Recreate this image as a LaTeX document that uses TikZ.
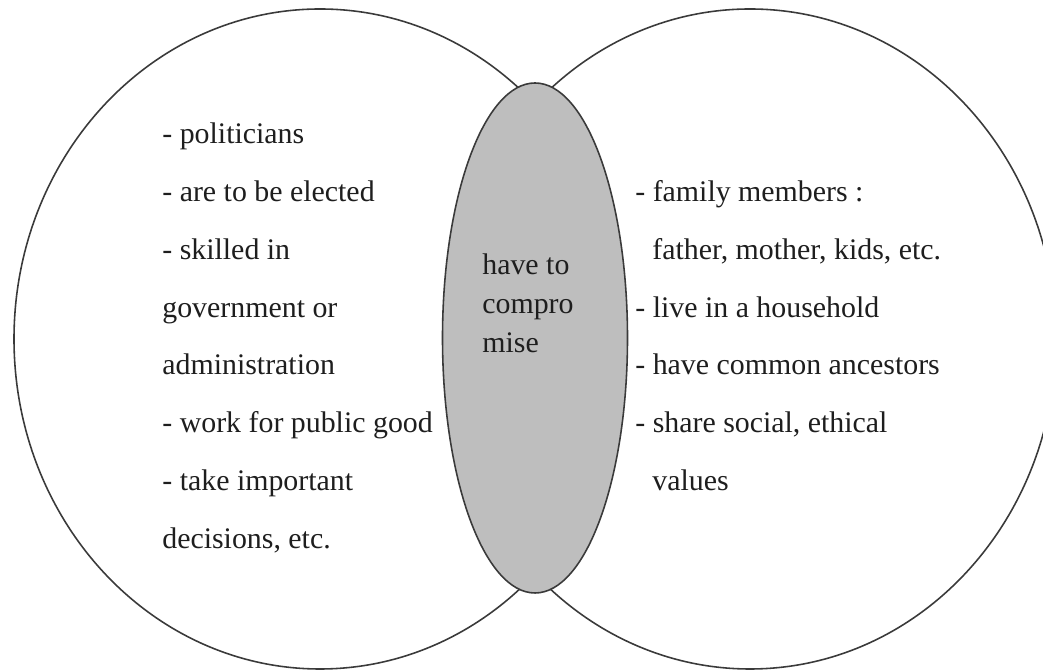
\documentclass[tikz,border=0pt]{standalone}
\usepackage{fontspec}
\setmainfont{Liberation Serif}
\usetikzlibrary{positioning}
\definecolor{ring-border}{HTML}{3A3A3A}
\definecolor{overlap-fill}{HTML}{BEBEBE}
\definecolor{label-color}{HTML}{1E1E1E}
\tikzset{
  ring/.style={draw=ring-border, line width=0.9pt},
  overlap/.style={draw=ring-border, fill=overlap-fill, line width=0.9pt},
  list-item/.style={
    anchor=base west, inner sep=0pt, text=label-color,
    font=\fontsize{17}{20}\selectfont
  }
}

\begin{document}
\begin{tikzpicture}
  \useasboundingbox (0, 0) rectangle (20.86, 13.4);
  \clip (0, 0) rectangle (20.86, 13.4);

  \draw[ring] (6.40, 6.62) ellipse [x radius=6.12, y radius=6.60];
  \draw[ring] (15.00, 6.62) ellipse [x radius=6.12, y radius=6.60];
  \draw[overlap] (10.70, 6.64) ellipse [x radius=1.85, y radius=5.10];

  % politicians
  \node[list-item] (pol-1) at (3.24, 10.52) {- politicians};
  \node[list-item] (pol-2) at (3.24, 9.36)  {- are to be elected};
  \node[list-item] (pol-3) at (3.24, 8.21)  {- skilled in};
  \node[list-item] (pol-4) at (3.24, 7.05)  {government or};
  \node[list-item] (pol-5) at (3.24, 5.90)  {administration};
  \node[list-item] (pol-6) at (3.24, 4.74)  {- work for public good};
  \node[list-item] (pol-7) at (3.24, 3.58)  {- take important};
  \node[list-item] (pol-8) at (3.24, 2.43)  {decisions, etc.};

  % family
  \node[list-item] (fam-1) at (12.70, 9.36) {- family members :};
  \node[list-item] (fam-2) at (13.04, 8.21) {father, mother, kids, etc.};
  \node[list-item] (fam-3) at (12.70, 7.05) {- live in a household};
  \node[list-item] (fam-4) at (12.70, 5.90) {- have common ancestors};
  \node[list-item] (fam-5) at (12.70, 4.74) {- share social, ethical};
  \node[list-item] (fam-6) at (13.04, 3.58) {values};

  \node[list-item, anchor=west, align=left, font=\fontsize{17}{22.2}\selectfont]
    (middle) at (9.64, 7.34) {have to\\compro\\mise};
\end{tikzpicture}
\end{document}
